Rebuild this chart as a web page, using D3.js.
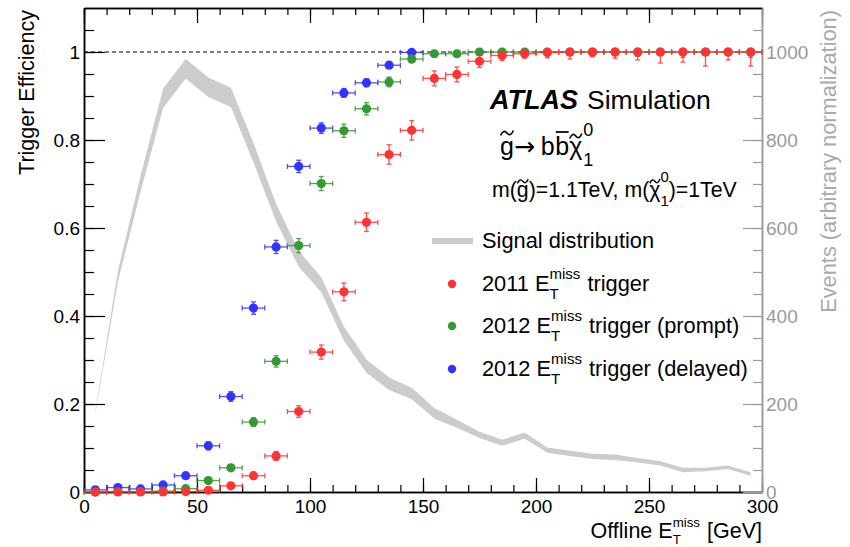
<!DOCTYPE html>
<html>
<head>
<meta charset="utf-8">
<script src="https://cdn.jsdelivr.net/npm/d3@7"></script>
<style>
  body { margin: 0; background: #fff; }
  text { font-family: "Liberation Sans", Arial, Helvetica, sans-serif; white-space: pre; }
</style>
</head>
<body>
<div id="chart"></div>
<script>
// bin centres of offline MET [GeV]
const binCenters = [5, 15, 25, 35, 45, 55, 65, 75, 85, 95, 105, 115, 125, 135, 145,
  155, 165, 175, 185, 195, 205, 215, 225, 235, 245, 255, 265, 275, 285, 295];

// signal distribution (arbitrary normalization) and its band half-width
const signalEvents = [180, 490, 700, 895, 962, 920, 897, 771, 635, 530, 471, 360, 286, 246, 224,
  179, 155, 130, 112, 128, 95, 88, 81, 79, 72, 65, 50, 51, 56, 41];
const signalErr = [3, 12, 18, 22, 22, 22, 22, 22, 20, 18, 17, 16, 15, 14, 13,
  12, 9, 7, 7, 7, 6, 6, 6, 6, 5, 5, 5, 4, 4, 4];

// 2011 MET trigger
const eff2011 = [0.0, 0.0, 0.0, 0.0, 0.001, 0.004, 0.014, 0.037, 0.082, 0.183, 0.318, 0.455, 0.613, 0.767, 0.822,
  0.940, 0.949, 0.979, 0.992, 0.996, 0.999, 1.0, 1.0, 1.0, 1.0, 1.0, 1.0, 1.0, 1.0, 1.0];
const err2011 = [0.002, 0.002, 0.002, 0.002, 0.002, 0.003, 0.005, 0.008, 0.010, 0.013, 0.016, 0.020, 0.021, 0.022, 0.022,
  0.017, 0.017, 0.014, 0.011, 0.010, 0.012, 0.016, 0.011, 0.014, 0.018, 0.025, 0.023, 0.032, 0.018, 0.032];

// 2012 MET trigger (prompt)
const effPrompt = [0.0, 0.001, 0.001, 0.002, 0.0075, 0.026, 0.055, 0.159, 0.297, 0.560, 0.701, 0.821, 0.871, 0.932, 0.984,
  0.996, 0.996, 1.0, 1.0, 1.0, 1.0, 1.0, 1.0, 1.0, 1.0, 1.0, 1.0, 1.0, 1.0, 1.0];
const errPrompt = [0.002, 0.002, 0.002, 0.002, 0.003, 0.005, 0.007, 0.010, 0.013, 0.016, 0.016, 0.015, 0.014, 0.011, 0.008,
  0.005, 0.005, 0.004, 0.004, 0.004, 0.004, 0.005, 0.005, 0.008, 0.010, 0.006, 0.012, 0.006, 0.006, 0.012];

// 2012 MET trigger (delayed), first 15 bins
const effDelayed = [0.005, 0.010, 0.007, 0.016, 0.037, 0.105, 0.217, 0.418, 0.557, 0.740, 0.827, 0.907, 0.930, 0.970, 0.999];
const errDelayed = [0.003, 0.004, 0.003, 0.005, 0.006, 0.009, 0.011, 0.014, 0.015, 0.014, 0.012, 0.010, 0.009, 0.007, 0.004];

const xTicks = [0, 50, 100, 150, 200, 250, 300];
const effTicks = [0, 0.2, 0.4, 0.6, 0.8, 1];
const effTickLabels = ["0", "0.2", "0.4", "0.6", "0.8", "1"];
const eventTicks = [0, 200, 400, 600, 800, 1000];

const RED = "#ff3333", GREEN = "#339933", BLUE = "#3333ff", BAND = "#cccccc", GREY = "#999999";

const width = 850, height = 547;
const margin = { top: 8, right: 88, bottom: 55, left: 84 };
const plotW = width - margin.left - margin.right;
const plotH = height - margin.top - margin.bottom;

const svg = d3.select("#chart").append("svg")
  .attr("width", width)
  .attr("height", height);

const g = svg.append("g").attr("transform", `translate(${margin.left},${margin.top})`);

const x = d3.scaleLinear().domain([0, 300]).range([0, plotW]);
const y = d3.scaleLinear().domain([0, 1.1]).range([plotH, 0]);
const yEv = d3.scaleLinear().domain([0, 1100]).range([plotH, 0]);

// signal band
const signal = binCenters.map((c, i) => ({ x: c, v: signalEvents[i], e: signalErr[i] }));
g.append("path")
  .datum(signal)
  .attr("fill", BAND)
  .attr("d", d3.area()
    .x((d) => x(d.x))
    .y0((d) => yEv(d.v - d.e))
    .y1((d) => yEv(d.v + d.e)));

// efficiency = 1 reference
g.append("line")
  .attr("x1", 0).attr("x2", plotW)
  .attr("y1", y(1)).attr("y2", y(1))
  .attr("stroke", "#000").attr("stroke-width", 1)
  .attr("stroke-dasharray", "4,3");

// axes
function styleAxis(sel, color, w) {
  sel.select(".domain").attr("stroke", color).attr("stroke-width", w);
  sel.selectAll(".tick line").attr("stroke", color).attr("stroke-width", 1.2);
  sel.selectAll(".tick text").attr("fill", color).attr("font-size", 19)
    .attr("font-family", '"Liberation Sans", Arial, sans-serif');
}

const xMinor = d3.range(0, 301, 10);
const effMinor = d3.range(0, 1.1, 0.05);
const evMinor = d3.range(0, 1100, 50);

// bottom
g.append("g").attr("transform", `translate(0,${plotH})`)
  .call(d3.axisBottom(x).tickValues(xMinor).tickFormat("").tickSizeInner(-7).tickSizeOuter(0))
  .call((s) => styleAxis(s, "#000", 1.5));
g.append("g").attr("transform", `translate(0,${plotH})`)
  .call(d3.axisBottom(x).tickValues(xTicks).tickSizeInner(-14).tickSizeOuter(0).tickPadding(7.5))
  .call((s) => styleAxis(s, "#000", 1.5));
// top
g.append("g")
  .call(d3.axisTop(x).tickValues(xMinor).tickFormat("").tickSizeInner(-7).tickSizeOuter(0))
  .call((s) => styleAxis(s, "#000", 1.5));
g.append("g")
  .call(d3.axisTop(x).tickValues(xTicks).tickFormat("").tickSizeInner(-15).tickSizeOuter(0))
  .call((s) => styleAxis(s, "#000", 1.5));
// left
g.append("g")
  .call(d3.axisLeft(y).tickValues(effMinor).tickFormat("").tickSizeInner(-10).tickSizeOuter(0))
  .call((s) => styleAxis(s, "#000", 1.5));
g.append("g")
  .call(d3.axisLeft(y).tickValues(effTicks).tickFormat((d, i) => effTickLabels[i])
    .tickSizeInner(-21).tickSizeOuter(0).tickPadding(4))
  .call((s) => styleAxis(s, "#000", 1.5));
// right (events)
g.append("g").attr("transform", `translate(${plotW},0)`)
  .call(d3.axisRight(yEv).tickValues(evMinor).tickFormat("").tickSizeInner(-9).tickSizeOuter(0))
  .call((s) => styleAxis(s, GREY, 1.5));
g.append("g").attr("transform", `translate(${plotW},0)`)
  .call(d3.axisRight(yEv).tickValues(eventTicks).tickFormat(d3.format("d"))
    .tickSizeInner(-19).tickSizeOuter(0).tickPadding(4))
  .call((s) => styleAxis(s, GREY, 1.5));

// data points with error bars
function drawSeries(vals, errs, color) {
  const data = vals.map((v, i) => ({ x: binCenters[i], v: v, e: errs[i] }));
  const s = g.append("g");
  const pts = s.selectAll("g").data(data).enter().append("g")
    .attr("stroke", color).attr("stroke-width", 1.3).attr("stroke-opacity", 0.85);
  const cap = 2.5;
  pts.append("line")
    .attr("x1", (d) => x(d.x - 5)).attr("x2", (d) => x(d.x + 5))
    .attr("y1", (d) => y(d.v)).attr("y2", (d) => y(d.v));
  pts.append("line")
    .attr("x1", (d) => x(d.x - 5)).attr("x2", (d) => x(d.x - 5))
    .attr("y1", (d) => y(d.v) - cap).attr("y2", (d) => y(d.v) + cap);
  pts.append("line")
    .attr("x1", (d) => x(d.x + 5)).attr("x2", (d) => x(d.x + 5))
    .attr("y1", (d) => y(d.v) - cap).attr("y2", (d) => y(d.v) + cap);
  const lo = (d) => y(Math.max(0, d.v - d.e));
  const hi = (d) => y(Math.min(1, d.v + d.e));
  pts.append("line")
    .attr("x1", (d) => x(d.x)).attr("x2", (d) => x(d.x))
    .attr("y1", lo).attr("y2", hi);
  pts.append("line")
    .attr("x1", (d) => x(d.x) - cap).attr("x2", (d) => x(d.x) + cap)
    .attr("y1", lo).attr("y2", lo);
  pts.append("line")
    .attr("x1", (d) => x(d.x) - cap).attr("x2", (d) => x(d.x) + cap)
    .attr("y1", hi).attr("y2", hi);
  pts.append("circle")
    .attr("cx", (d) => x(d.x)).attr("cy", (d) => y(d.v))
    .attr("r", 4.6).attr("fill", color).attr("stroke", "none");
}

drawSeries(effDelayed, errDelayed, BLUE);
drawSeries(effPrompt, errPrompt, GREEN);
drawSeries(eff2011, err2011, RED);

// text with ROOT-like sub/superscripts, tildes and bars
function rich(parent, x0, y0, parts, size, opts = {}) {
  const t = parent.append("g").attr("fill", opts.color || "#000");
  let cx = 0;
  parts.forEach((p) => {
    if (p.sub !== undefined || p.sup !== undefined) {
      const s = size * (p.scale || 0.68);
      let w = 0;
      if (p.sup) {
        const n = t.append("text").attr("x", cx).attr("y", -size * (p.up || 0.52))
          .attr("font-size", s).text(p.sup);
        w = Math.max(w, n.node().getComputedTextLength());
      }
      if (p.sub) {
        const n = t.append("text").attr("x", cx).attr("y", size * (p.down || 0.36))
          .attr("font-size", s).text(p.sub);
        w = Math.max(w, n.node().getComputedTextLength());
      }
      cx += w + (p.gap || 0);
    } else {
      const n = t.append("text").attr("x", cx).attr("font-size", size * (p.scale || 1))
        .attr("font-weight", p.bold ? "bold" : null)
        .attr("font-style", p.italic ? "italic" : null)
        .style("font-family", p.font || null)
        .text(p.t);
      const w = n.node().getComputedTextLength();
      if (p.tilde) {
        const ty = -size * p.tilde, h = size * 0.1;
        t.append("path")
          .attr("d", `M${cx + 0.5},${ty + h} C${cx + w * 0.2},${ty - h * 0.9} ${cx + w * 0.35},${ty - h} ${cx + w * 0.5},${ty}` +
            ` S${cx + w * 0.8},${ty + h * 1.1} ${cx + w - 0.5},${ty - h}`)
          .attr("fill", "none").attr("stroke", opts.color || "#000").attr("stroke-width", size * 0.065);
      }
      if (p.bar) {
        t.append("line").attr("x1", cx + 0.5).attr("x2", cx + w - 0.5)
          .attr("y1", -size * p.bar).attr("y2", -size * p.bar)
          .attr("stroke", opts.color || "#000").attr("stroke-width", size * 0.07);
      }
      cx += w + (p.gap || 0);
    }
  });
  const dx = opts.anchor === "end" ? -cx : 0;
  t.attr("transform", `translate(${x0 + dx},${y0})`);
  return t;
}

// ATLAS label
svg.append("text").attr("x", 490).attr("y", 109)
  .attr("font-size", 27).attr("font-weight", "bold").attr("font-style", "italic")
  .text("ATLAS");
svg.append("text").attr("x", 587).attr("y", 109)
  .attr("font-size", 26.5).text("Simulation");

rich(svg, 500, 155, [
  { t: "g", tilde: 0.88 }, { t: "\u2192", font: "DejaVu Sans", gap: 6 }, { t: "b", gap: 0.5 }, { t: "b", bar: 0.92 },
  { t: "\u03c7", tilde: 0.76, gap: 1 },
  { sup: "0", sub: "1", up: 0.78, down: 0.42, scale: 0.72 }
], 25);

rich(svg, 492, 197, [
  { t: "m(" }, { t: "g", tilde: 0.74 }, { t: ")=1.1TeV, m(" }, { t: "\u03c7", tilde: 0.74 },
  { sup: "0", sub: "1", up: 0.72, down: 0.42, scale: 0.7 }, { t: ")=1TeV" }
], 21.3);

// legend
svg.append("line").attr("x1", 432).attr("x2", 473).attr("y1", 241).attr("y2", 241)
  .attr("stroke", BAND).attr("stroke-width", 6);
svg.append("text").attr("x", 482).attr("y", 248).attr("font-size", 21.8).text("Signal distribution");

const legendItems = [
  { color: RED, y: 291, rest: " trigger" },
  { color: GREEN, y: 333, rest: " trigger (prompt)" },
  { color: BLUE, y: 376, rest: " trigger (delayed)" }
];
const legendYears = ["2011", "2012", "2012"];
legendItems.forEach((it, i) => {
  svg.append("circle").attr("cx", 452).attr("cy", it.y - 7).attr("r", 4.2).attr("fill", it.color);
  rich(svg, 482, it.y, [
    { t: legendYears[i] + " E" }, { sup: "miss", sub: "T", up: 0.54, down: 0.36, scale: 0.69, gap: 1 }, { t: it.rest }
  ], 21.8);
});

// axis titles
svg.append("text")
  .attr("transform", "translate(33.5,10) rotate(-90)")
  .attr("text-anchor", "end").attr("font-size", 21.5)
  .text("Trigger Efficiency");
svg.append("text")
  .attr("transform", "translate(835.5,10) rotate(-90)")
  .attr("text-anchor", "end").attr("font-size", 21.8).attr("fill", "#aaaaaa")
  .text("Events (arbitrary normalization)");
rich(svg, 762, 538, [
  { t: "Offline E" }, { sup: "miss", sub: "T", up: 0.52, down: 0.3, scale: 0.62, gap: 1 }, { t: " [GeV]" }
], 21.5, { anchor: "end" });
</script>
</body>
</html>
